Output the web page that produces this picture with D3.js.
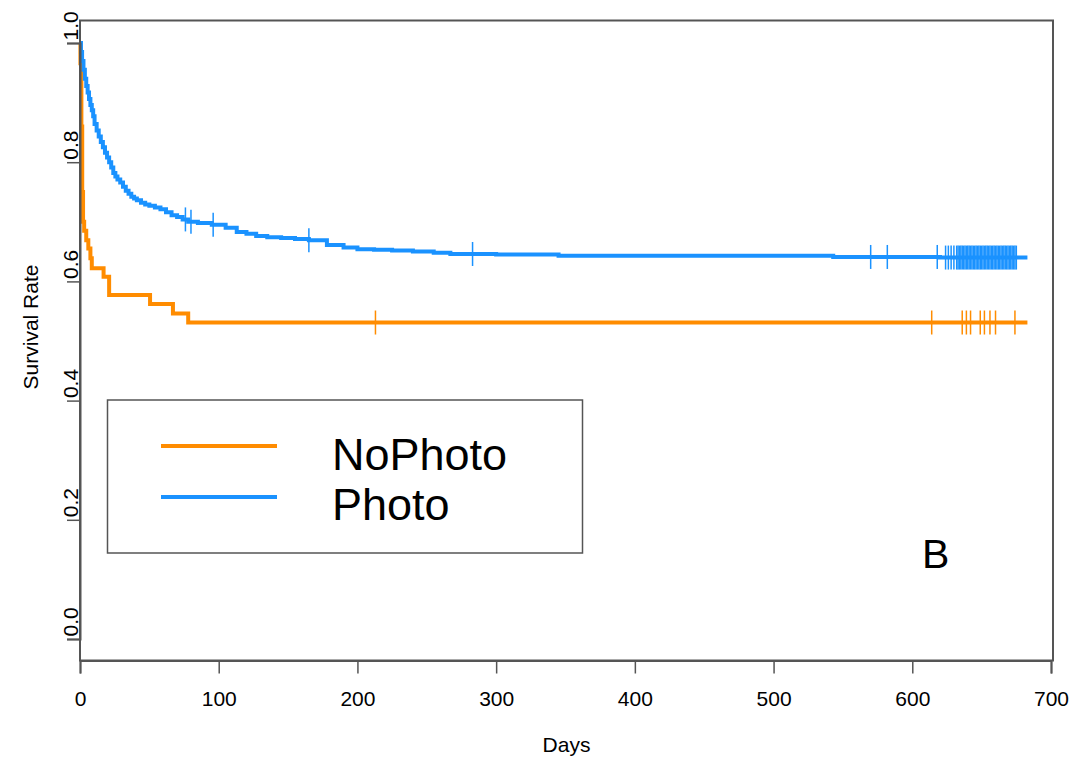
<!DOCTYPE html>
<html>
<head>
<meta charset="utf-8">
<script src="https://cdn.jsdelivr.net/npm/d3@7"></script>
<style>
  body { margin: 0; background: #fff; }
  text { font-family: "Liberation Sans", Arial, sans-serif; }
</style>
</head>
<body>
<svg id="km"></svg>
<script>
// Kaplan-Meier curves
var noPhotoTime = [0, 0.3, 1, 1.6, 2.2, 3, 4.5, 6, 7.5, 8.5, 17, 21, 50.5, 67, 78, 683]
var noPhotoSurv = [1.0, 0.966, 0.86, 0.75, 0.70, 0.685, 0.669, 0.655, 0.639, 0.622, 0.608, 0.577, 0.562, 0.546, 0.531, 0.531]
var noPhotoCensor = [213, 614, 636, 639, 642, 649, 652, 656, 660, 674]

var photoTime = [0, 0.7, 1.5, 2.5, 3.5, 4.5, 5.5, 6.5, 7.5, 8.5, 9.5, 10.5, 12, 13.5, 15, 16.5, 18, 19.5, 21, 22.5,
    24, 25.5, 27, 29, 31, 33, 35, 37, 39, 41, 44, 47, 50, 54, 58, 62, 66, 70, 74, 78, 85, 95, 105, 113, 120, 127,
    135, 145, 155, 165, 178, 190, 200, 212, 225, 240, 255, 267, 300, 345, 543, 620, 683]
var photoSurv = [1.0, 0.985, 0.97, 0.955, 0.94, 0.928, 0.917, 0.906, 0.896, 0.887, 0.877, 0.864, 0.853, 0.843, 0.834,
    0.825, 0.816, 0.808, 0.800, 0.791, 0.782, 0.776, 0.771, 0.766, 0.759, 0.752, 0.747, 0.742, 0.739, 0.736, 0.732,
    0.729, 0.727, 0.724, 0.721, 0.716, 0.711, 0.708, 0.704, 0.700, 0.698, 0.695, 0.690, 0.683, 0.680, 0.676, 0.674,
    0.673, 0.671, 0.669, 0.661, 0.657, 0.654, 0.653, 0.652, 0.650, 0.648, 0.646, 0.645, 0.643, 0.641, 0.640, 0.640]
var photoCensor = [76, 80, 96, 165, 283, 570, 582, 618, 624, 626, 628, 630, 632,
    633, 634, 635, 636, 637, 638, 639, 640, 641, 642, 643, 644, 645, 646, 647, 648, 649, 650, 651, 652, 653, 654,
    655, 656, 657, 658, 659, 660, 661, 662, 663, 664, 665, 666, 667, 668, 669, 670, 671, 672, 673, 674, 675]

var groupNames = ["NoPhoto", "Photo"]
var groupColors = ["#ff8c00", "#1a92ff"]
var xTicks = [0, 100, 200, 300, 400, 500, 600, 700]
var yTicks = [0.0, 0.2, 0.4, 0.6, 0.8, 1.0]

var dimensions = {
    width: 1083,
    height: 763,
    box: { left: 80, right: 1053, top: 20.5, bottom: 660.5 }
}

var svg = d3.select("#km")
    .attr("width", dimensions.width)
    .attr("height", dimensions.height)

var xScale = d3.scaleLinear()
    .domain([0, 700])
    .range([80, 1051])

var yScale = d3.scaleLinear()
    .domain([0, 1])
    .range([639, 43])

var groups = [
    { name: groupNames[0], color: groupColors[0], time: noPhotoTime, surv: noPhotoSurv, censor: noPhotoCensor },
    { name: groupNames[1], color: groupColors[1], time: photoTime, surv: photoSurv, censor: photoCensor }
]

// survival value at time t (step function)
function survAt(g, t) {
    var s = g.surv[0]
    for (var i = 0; i < g.time.length; i++) {
        if (g.time[i] <= t) s = g.surv[i]
    }
    return s
}

var lineGen = d3.line()
    .x(d => xScale(d[0]))
    .y(d => yScale(d[1]))
    .curve(d3.curveStepAfter)

groups.forEach(g => {
    var pts = g.time.map((t, i) => [t, g.surv[i]])
    svg.append("path")
        .attr("d", lineGen(pts))
        .attr("fill", "none")
        .attr("stroke", g.color)
        .attr("stroke-width", 4)

    svg.append("g")
        .selectAll("line")
        .data(g.censor)
        .enter()
        .append("line")
        .attr("x1", d => xScale(d))
        .attr("x2", d => xScale(d))
        .attr("y1", d => yScale(survAt(g, d)) - 12)
        .attr("y2", d => yScale(survAt(g, d)) + 12)
        .attr("stroke", g.color)
        .attr("stroke-width", 1.5)
})

// plot box
svg.append("rect")
    .attr("x", dimensions.box.left)
    .attr("y", dimensions.box.top)
    .attr("width", dimensions.box.right - dimensions.box.left)
    .attr("height", dimensions.box.bottom - dimensions.box.top)
    .attr("fill", "none")
    .attr("stroke", "#555")
    .attr("stroke-width", 2)

// x axis
var xAxisGen = d3.axisBottom(xScale)
    .tickValues(xTicks)
    .tickSize(13)
    .tickPadding(18)
    .tickFormat(d3.format("d"))

var xAxis = svg.append("g")
    .attr("transform", "translate(0," + dimensions.box.bottom + ")")
    .call(xAxisGen)
xAxis.select(".domain").attr("stroke", "#555").attr("stroke-width", 2)
xAxis.selectAll(".tick line").attr("stroke", "#555").attr("stroke-width", 1.5)
xAxis.selectAll("text")
    .style("font-size", "21px")
    .attr("fill", "#000")

// y axis
var yAxisGen = d3.axisLeft(yScale)
    .tickValues(yTicks)
    .tickSize(13)
    .tickFormat(d3.format(".1f"))

var yAxis = svg.append("g")
    .attr("transform", "translate(" + dimensions.box.left + ",0)")
    .call(yAxisGen)
yAxis.select(".domain").attr("stroke", "#555").attr("stroke-width", 2)
yAxis.selectAll(".tick line").attr("stroke", "#555").attr("stroke-width", 1.5)
yAxis.selectAll("text")
    .attr("x", null)
    .attr("dy", null)
    .attr("transform", "translate(-2,-3) rotate(-90)")
    .attr("text-anchor", "start")
    .style("font-size", "21px")
    .attr("fill", "#000")

// axis titles
svg.append("text")
    .attr("x", (dimensions.box.left + dimensions.box.right) / 2)
    .attr("y", 752)
    .attr("text-anchor", "middle")
    .style("font-size", "21px")
    .text("Days")

svg.append("text")
    .attr("transform", "translate(38,327) rotate(-90)")
    .attr("text-anchor", "middle")
    .style("font-size", "21px")
    .text("Survival Rate")

// legend
var legend = svg.append("g")
legend.append("rect")
    .attr("x", 107.5)
    .attr("y", 400)
    .attr("width", 475)
    .attr("height", 153)
    .attr("fill", "#fff")
    .attr("stroke", "#555")
    .attr("stroke-width", 1.5)

groups.forEach((g, i) => {
    legend.append("line")
        .attr("x1", 161)
        .attr("x2", 277)
        .attr("y1", 446 + i * 51)
        .attr("y2", 446 + i * 51)
        .attr("stroke", g.color)
        .attr("stroke-width", 4)
    legend.append("text")
        .attr("x", 332)
        .attr("y", 470 + i * 50)
        .style("font-size", "45px")
        .text(g.name)
})

svg.append("text")
    .attr("x", 922)
    .attr("y", 568)
    .style("font-size", "41px")
    .text("B")
</script>
</body>
</html>
